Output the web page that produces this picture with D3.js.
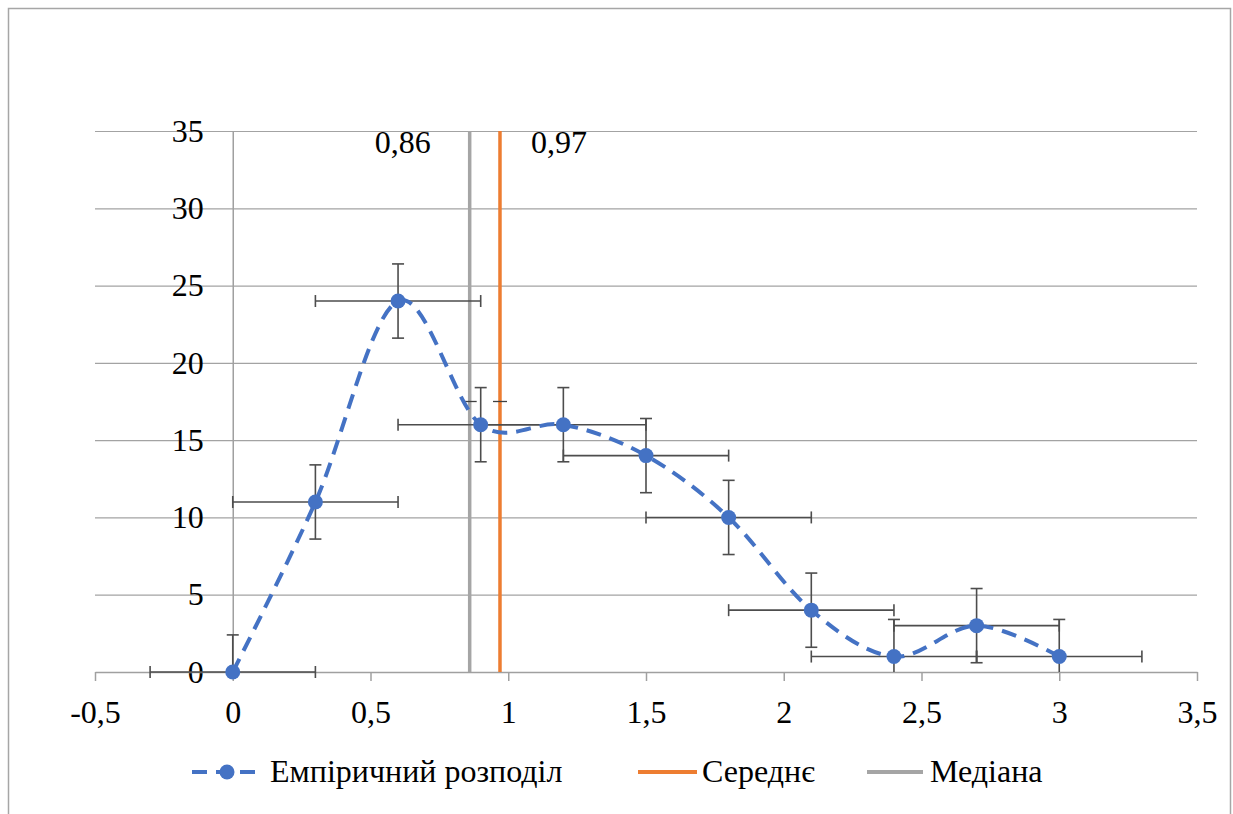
<!DOCTYPE html>
<html>
<head>
<meta charset="utf-8">
<script src="https://cdn.jsdelivr.net/npm/d3@7"></script>
<style>
  body { margin: 0; background: #fff; }
</style>
</head>
<body>
<script>
// données
var xVals = [0, 0.3, 0.6, 0.9, 1.2, 1.5, 1.8, 2.1, 2.4, 2.7, 3];
var yVals = [0, 11, 24, 16, 16, 14, 10, 4, 1, 3, 1];
var xErr = 0.3;
var yErr = 2.4;
var meanVal = 0.97, medianVal = 0.86;
var xTicks = [-0.5, 0, 0.5, 1, 1.5, 2, 2.5, 3, 3.5];
var yTicks = [0, 5, 10, 15, 20, 25, 30, 35];
var legendLabels = ["Емпіричний розподіл", "Середнє", "Медіана"];

var dataset = xVals.map(function(d, i) { return [d, yVals[i]]; });

var W = 1233, H = 814;
var margin = {top: 131, left: 95, right: 36, bottom: 142};
var width = W - margin.left - margin.right,
    height = H - margin.top - margin.bottom;
var FONT = "'Liberation Serif'", FS = 32;

var fmt = function(v) { return String(v).replace(".", ","); };
var styleTxt = function(sel) {
  sel.style("font-family", FONT)
     .attr("font-size", FS)
     .style("fill", "#000");
};

var svg0 = d3.select("body").append("svg")
    .attr("width", W).attr("height", H);

// cadre
svg0.append("rect")
    .attr("x", 8.5).attr("y", 8.5)
    .attr("width", 1222).attr("height", 820)
    .attr("fill", "none").attr("stroke", "#a6a6a6").attr("stroke-width", 1.5);

var svg = svg0.append("g")
    .attr("transform", "translate(" + margin.left + "," + margin.top + ")");

// ECHELLES
var absc = d3.scaleLinear().domain([-0.5, 3.5]).range([0, width]);
var ordo = d3.scaleLinear().domain([0, 35]).range([height, 0]);

// grille horizontale
svg.append("g")
    .attr("class", "grid")
    .call(d3.axisLeft(ordo).tickValues(yTicks).tickSize(-width).tickFormat(""))
    .call(function(g) {
      g.select(".domain").remove();
      g.selectAll("line").attr("stroke", "#a3a3a3").attr("stroke-width", 1.2);
    });

// axe vertical (en x = 0) avec étiquettes
svg.append("g")
    .attr("transform", "translate(" + absc(0) + ",0)")
    .call(d3.axisLeft(ordo).tickValues(yTicks).tickSize(0).tickSizeOuter(0).tickPadding(29).tickFormat(fmt))
    .call(function(g) {
      g.select(".domain").attr("stroke", "#a0a0a0").attr("stroke-width", 1.5);
      g.selectAll("text").call(styleTxt);
    });

// axe horizontal (en y = 0)
svg.append("g")
    .attr("transform", "translate(0," + ordo(0) + ")")
    .call(d3.axisBottom(absc).tickValues(xTicks).tickSize(9).tickSizeOuter(0).tickPadding(19).tickFormat(fmt))
    .call(function(g) {
      g.select(".domain").attr("stroke", "#a0a0a0").attr("stroke-width", 1.5);
      g.selectAll("line").attr("stroke", "#a0a0a0").attr("stroke-width", 1.5);
      g.selectAll("text").call(styleTxt);
    });

// lignes verticales : médiane et moyenne
var vlines = [[medianVal, "#a5a5a5"], [meanVal, "#ed7d31"]];
vlines.forEach(function(v) {
  svg.append("line")
      .attr("x1", absc(v[0])).attr("x2", absc(v[0]))
      .attr("y1", ordo(0)).attr("y2", ordo(35))
      .attr("stroke", v[1]).attr("stroke-width", 3.5);
  svg.append("line")
      .attr("x1", absc(v[0]) - 7).attr("x2", absc(v[0]) + 7)
      .attr("y1", ordo(17.5)).attr("y2", ordo(17.5))
      .attr("stroke", "#404040").attr("stroke-width", 1.3);
});

svg.append("text")
    .attr("x", absc(medianVal) - 39).attr("y", ordo(35) + 22)
    .attr("text-anchor", "end")
    .text(fmt(medianVal)).call(styleTxt);
svg.append("text")
    .attr("x", absc(meanVal) + 31).attr("y", ordo(35) + 22)
    .attr("text-anchor", "start")
    .text(fmt(meanVal)).call(styleTxt);

// barres d'erreur
var errCol = "#4d4d4d", cap = 6;
var eb = svg.append("g").attr("class", "errbars");
dataset.forEach(function(d) {
  var cx = absc(d[0]), cy = ordo(d[1]);
  var xl = absc(d[0] - xErr), xr = absc(d[0] + xErr);
  var yt = ordo(d[1] + yErr), yb = ordo(Math.max(0, d[1] - yErr));
  eb.append("line").attr("x1", xl).attr("x2", xr).attr("y1", cy).attr("y2", cy);
  eb.append("line").attr("x1", xl).attr("x2", xl).attr("y1", cy - cap).attr("y2", cy + cap);
  eb.append("line").attr("x1", xr).attr("x2", xr).attr("y1", cy - cap).attr("y2", cy + cap);
  eb.append("line").attr("x1", cx).attr("x2", cx).attr("y1", yt).attr("y2", yb);
  eb.append("line").attr("x1", cx - cap).attr("x2", cx + cap).attr("y1", yt).attr("y2", yt);
  if (d[1] - yErr >= 0)
    eb.append("line").attr("x1", cx - cap).attr("x2", cx + cap).attr("y1", yb).attr("y2", yb);
});
eb.selectAll("line").attr("stroke", errCol).attr("stroke-width", 1.6);

// courbe lissée
var courbe = d3.line()
    .x(function(d) { return absc(d[0]); })
    .y(function(d) { return ordo(d[1]); })
    .curve(d3.curveCardinal.tension(0));

svg.append("path")
    .datum(dataset)
    .attr("fill", "none")
    .attr("stroke", "#4472c4")
    .attr("stroke-width", 4)
    .attr("stroke-dasharray", "15,9")
    .attr("d", courbe);

svg.selectAll(".pt")
    .data(dataset)
    .enter().append("circle")
    .attr("class", "pt")
    .attr("cx", function(d) { return absc(d[0]); })
    .attr("cy", function(d) { return ordo(d[1]); })
    .attr("r", 7.5)
    .attr("fill", "#4472c4");

// LEGENDE
var lg = svg0.append("g").attr("transform", "translate(0,772)");
lg.append("line").attr("x1", 192).attr("x2", 260).attr("y1", 0).attr("y2", 0)
    .attr("stroke", "#4472c4").attr("stroke-width", 4).attr("stroke-dasharray", "15,9");
lg.append("circle").attr("cx", 227).attr("cy", 0).attr("r", 7.5).attr("fill", "#4472c4");
lg.append("line").attr("x1", 638).attr("x2", 697).attr("y1", 0).attr("y2", 0)
    .attr("stroke", "#ed7d31").attr("stroke-width", 4);
lg.append("line").attr("x1", 867).attr("x2", 923).attr("y1", 0).attr("y2", 0)
    .attr("stroke", "#a5a5a5").attr("stroke-width", 4);
var lgX = [270, 702, 930];
legendLabels.forEach(function(t, i) {
  lg.append("text").attr("x", lgX[i]).attr("y", 10).text(t).call(styleTxt);
});
</script>
</body>
</html>
